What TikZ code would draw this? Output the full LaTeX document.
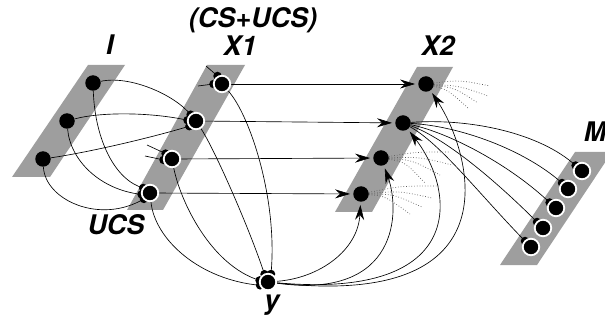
\documentclass[tikz,border=0pt]{standalone}
\usepackage{fontspec}
\setmainfont{TeX Gyre Heros}
\usetikzlibrary{arrows.meta}
\pgfdeclarelayer{bands}
\pgfdeclarelayer{wires}
\pgfsetlayers{bands,wires,main}
\definecolor{bandgray}{RGB}{158,158,158}
\begin{document}
\begin{tikzpicture}[x=1pt,y=-1pt,
  nrn/.style={circle, fill=black, inner sep=0pt, minimum size=15.5pt},
  wnrn/.style={circle, fill=black, draw=white, line width=1.8pt, inner sep=0pt, minimum size=16.5pt},
  syn/.style={circle, fill=black, inner sep=0pt, minimum size=8.5pt},
  conn/.style={line width=0.65pt},
  arr/.style={conn, -{Stealth[length=15pt,width=9pt,inset=5pt]}, shorten >=3pt},
  dots/.style={dotted, line width=0.7pt, black!65},
  lab/.style={font=\fontsize{27}{27}\selectfont\bfseries\itshape, inner sep=0pt, anchor=base}
]
\useasboundingbox (0,0) rectangle (605,323);
% bands
\begin{pgfonlayer}{bands}
\fill[bandgray] (88,65) -- (125,65) -- (50,177) -- (12,177) -- cycle;
\fill[bandgray] (207,65) -- (245,65) -- (163,210) -- (127,210) -- cycle;
\fill[bandgray] (417,67) -- (453,67) -- (372,212) -- (335,212) -- cycle;
\fill[bandgray] (575,152) -- (612,152) -- (537,265) -- (500,265) -- cycle;
\end{pgfonlayer}
% synapses
\foreach \n/\x/\y in {sa1/217.5/76, sa2/213.5/84, sb1/190.6/114.7, sb2/187.5/120.2, sb3/189.4/126.2,
  sc1/165.6/153.6, sc2/163.5/159.9, sd1/143.2/188, sd2/141.6/194.4, sd3/143.9/198.9,
  sy1/271/274, sy2/264.5/274.2, sy3/259.6/280.4, sy4/260.1/285.3,
  sm1/575.6/165.5, sm2/562/183, sm3/549.6/202.5, sm4/537/222, sm5/525/241}
  {\node[syn] (\n) at (\x,\y) {};}
% neurons
\node[nrn] (i1) at (93,83) {};
\node[nrn] (i2) at (67,121) {};
\node[nrn] (i3) at (43,159) {};
\node[wnrn] (x1a) at (222,84) {};
\node[wnrn] (x1b) at (196,121) {};
\node[wnrn] (x1c) at (172,159) {};
\node[wnrn] (x1d) at (150,193) {};
\node[nrn] (x2a) at (426,84) {};
\node[nrn] (x2b) at (403,123) {};
\node[nrn] (x2c) at (381,158) {};
\node[nrn] (x2d) at (361,194) {};
\node[wnrn] (m1) at (582,171) {};
\node[wnrn] (m2) at (568,189) {};
\node[wnrn] (m3) at (556,208) {};
\node[wnrn] (m4) at (543,228) {};
\node[wnrn] (m5) at (531,247) {};
\node[wnrn] (yy) at (268,282) {};
% labels
\node[lab] (lI) at (110,55) {I};
\node[lab] (lcs) at (253,28) {(CS+UCS)};
\node[lab] (lx1) at (240,56) {X1};
\node[lab] (lx2) at (438,56) {X2};
\node[lab] (lm) at (595,142) {M};
\node[lab] (lucs) at (116,235) {UCS};
\node[lab] (ly) at (272,309) {y};
% free ends of stubs
\coordinate (st1) at (206,66);
\coordinate (st2) at (198,86);
\coordinate (st3) at (147,145);
\coordinate (st4) at (145,156);
% dotted fan ends
\foreach \n/\x/\y in {da1/490/86, da2/488/96, da3/478/103, da4/468/108,
  dc1/450/152, dc2/452/165, dc3/440/175, dc4/425/183,
  dd1/440/186, dd2/432/198, dd3/422/207, dd4/410/214}
  {\coordinate (\n) at (\x,\y);}
\begin{pgfonlayer}{wires}
% stubs
\draw[conn] (st1) -- (sa1.center);
\draw[conn] (st2) -- (sa2.center);
\draw[conn] (st3) -- (sc1.center);
\draw[conn] (st4) -- (sc2.center);
% I -> X1
\draw[conn] (i1) .. controls (130,75) and (175,95) .. (sb1.center);
\draw[conn] (i1) .. controls (95,140) and (115,180) .. (sd1.center);
\draw[conn] (i2) .. controls (100,112) and (150,112) .. (sb2.center);
\draw[conn] (i2) .. controls (70,160) and (100,190) .. (sd2.center);
\draw[conn] (i3) .. controls (90,152) and (150,138) .. (sb3.center);
\draw[conn] (i3) .. controls (45,200) and (100,225) .. (sd3.center);
% X1 -> y
\draw[conn] (x1a) .. controls (250,115) and (278,200) .. (sy1.center);
\draw[conn] (x1b) .. controls (215,150) and (250,230) .. (sy2.center);
\draw[conn] (x1c) .. controls (180,200) and (210,265) .. (sy3.center);
\draw[conn] (x1d) .. controls (155,240) and (200,280) .. (sy4.center);
% X1 -> X2
\draw[arr] (x1a) -- (x2a);
\draw[arr] (x1b) -- (x2b);
\draw[arr] (x1c) -- (x2c);
\draw[arr] (x1d) -- (x2d);
% y -> X2
\draw[arr] (yy) .. controls (320,278) and (358,250) .. (x2d);
\draw[arr] (yy) .. controls (400,300) and (400,210) .. (x2c);
\draw[arr] (yy) .. controls (470,300) and (455,190) .. (x2b);
\draw[arr] (yy) .. controls (520,310) and (470,150) .. (x2a);
% X2 -> M
\draw[conn] (x2b) .. controls (470,118) and (540,133) .. (sm1.center);
\draw[conn] (x2b) .. controls (460,126) and (525,150) .. (sm2.center);
\draw[conn] (x2b) .. controls (450,133) and (510,165) .. (sm3.center);
\draw[conn] (x2b) .. controls (445,138) and (495,180) .. (sm4.center);
\draw[conn] (x2b) .. controls (440,143) and (480,195) .. (sm5.center);
% dotted fans
\draw[dots] (x2a) .. controls (460,80) .. (da1);
\draw[dots] (x2a) .. controls (460,86) .. (da2);
\draw[dots] (x2a) .. controls (455,88) .. (da3);
\draw[dots] (x2a) .. controls (448,90) .. (da4);
\draw[dots] (x2c) .. controls (415,152) .. (dc1);
\draw[dots] (x2c) .. controls (420,157) .. (dc2);
\draw[dots] (x2c) .. controls (412,160) .. (dc3);
\draw[dots] (x2c) .. controls (405,162) .. (dc4);
\draw[dots] (x2d) .. controls (400,186) .. (dd1);
\draw[dots] (x2d) .. controls (400,191) .. (dd2);
\draw[dots] (x2d) .. controls (393,194) .. (dd3);
\draw[dots] (x2d) .. controls (385,196) .. (dd4);
\end{pgfonlayer}
\end{tikzpicture}
\end{document}
